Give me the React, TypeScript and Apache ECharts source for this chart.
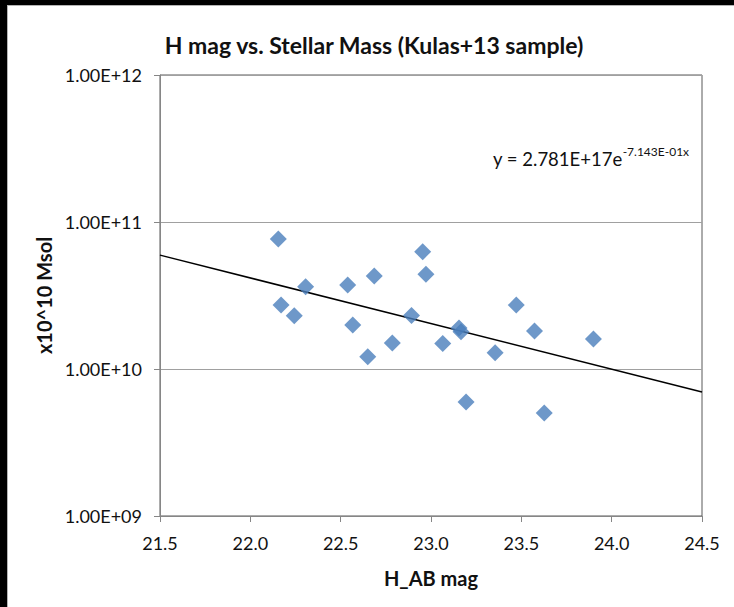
import React, { useEffect, useRef } from "react";
import * as echarts from "echarts";

// H_AB magnitude of each galaxy in the sample
const hMag = [
  22.155, 22.17, 22.243, 22.306, 22.539, 22.567, 22.65, 22.686, 22.786, 22.892,
  22.954, 22.972, 23.065, 23.155, 23.166, 23.194, 23.355, 23.472, 23.573, 23.627, 23.899,
];
// Stellar mass (Msol) of each galaxy, same order as hMag
const stellarMass = [
  7.66e10, 2.72e10, 2.3e10, 3.63e10, 3.73e10, 1.99e10, 1.21e10, 4.3e10, 1.5e10, 2.31e10,
  6.28e10, 4.41e10, 1.49e10, 1.9e10, 1.79e10, 5.97e9, 1.29e10, 2.72e10, 1.81e10, 5.01e9, 1.6e10,
];
// Exponential trendline y = A * e^(B x)
const trendA = 2.781e17;
const trendB = -7.143e-1;
const xRange = [21.5, 24.5];
const yRange = [1e9, 1e12];
const xTickStep = 0.5;

const FONT = "Lato, 'Noto Sans', sans-serif";

function formatSci(v: number): string {
  const exp = Math.round(Math.log10(v));
  const mant = v / Math.pow(10, exp);
  const sign = exp < 0 ? "-" : "+";
  const e = String(Math.abs(exp)).padStart(2, "0");
  return `${mant.toFixed(2)}E${sign}${e}`;
}

export default function App() {
  const ref = useRef<HTMLDivElement>(null);

  useEffect(() => {
    if (!ref.current) return;
    const chart = echarts.init(ref.current, undefined, { renderer: "svg" });

    const points = hMag.map((x, i) => [x, stellarMass[i]]);
    const trend = xRange.map((x) => [x, trendA * Math.exp(trendB * x)]);

    chart.setOption({
      animation: false,
      grid: {
        left: 160,
        right: 32,
        top: 75,
        bottom: 91,
        show: true,
        borderColor: "#595959",
        borderWidth: 1,
        backgroundColor: "transparent",
      },
      xAxis: {
        type: "value",
        min: xRange[0],
        max: xRange[1],
        interval: xTickStep,
        name: "H_AB mag",
        nameLocation: "middle",
        nameGap: 52,
        nameTextStyle: { fontFamily: FONT, fontWeight: "bold", fontSize: 20, color: "#111" },
        axisLine: { show: true, lineStyle: { color: "#868686", width: 1 } },
        axisTick: { show: true, inside: false, length: 6, lineStyle: { color: "#868686" } },
        axisLabel: {
          margin: 18,
          fontFamily: FONT,
          fontSize: 18,
          color: "#111",
          formatter: (v: number) => v.toFixed(1),
        },
        splitLine: { show: false },
      },
      yAxis: {
        type: "log",
        logBase: 10,
        min: yRange[0],
        max: yRange[1],
        name: "x10^10 Msol",
        nameLocation: "middle",
        nameRotate: 90,
        nameGap: 104,
        nameTextStyle: { fontFamily: FONT, fontWeight: "bold", fontSize: 20, color: "#111" },
        axisLine: { show: true, lineStyle: { color: "#868686", width: 1 } },
        axisTick: { show: true, inside: false, length: 6, lineStyle: { color: "#868686" } },
        minorTick: { show: false },
        axisLabel: {
          margin: 18,
          fontFamily: FONT,
          fontSize: 18,
          color: "#111",
          formatter: (v: number) => formatSci(v),
        },
        splitLine: { show: true, lineStyle: { color: "#a0a0a0", width: 1 } },
      },
      series: [
        {
          type: "line",
          data: trend,
          showSymbol: false,
          symbol: "none",
          lineStyle: { color: "#000", width: 1.5 },
          z: 3,
          silent: true,
        },
        {
          type: "scatter",
          data: points,
          symbol: "diamond",
          symbolSize: 17,
          itemStyle: { color: "#4a7ebb" },
          z: 4,
        },
      ],
      graphic: [
        {
          type: "text",
          x: 374,
          y: 45,
          style: {
            text: "H mag vs. Stellar Mass (Kulas+13 sample)",
            fontFamily: FONT,
            fontWeight: "bold",
            fontSize: 23,
            fill: "#111",
            textAlign: "center",
            textVerticalAlign: "middle",
          },
        },
        {
          type: "text",
          x: 493,
          y: 145,
          style: {
            text: "{a|y = 2.781E+17e}{b|-7.143E-01x}",
            fontFamily: FONT,
            textAlign: "left",
            textVerticalAlign: "top",
            rich: {
              a: { fontFamily: FONT, fontSize: 18.5, fill: "#111", lineHeight: 23, verticalAlign: "bottom" },
              b: {
                fontFamily: FONT,
                fontSize: 12,
                fill: "#111",
                lineHeight: 23,
                verticalAlign: "top",
              },
            },
          },
        },
      ],
    });

    return () => chart.dispose();
  }, []);

  return (
    <div style={{ position: "fixed", left: 0, top: 0, width: 734, height: 607, background: "#000" }}>
      <div
        style={{
          position: "absolute",
          left: 7,
          top: 5,
          right: 0,
          bottom: 0,
          background: "#fff",
          borderLeft: "1px solid #b4b4b4",
          borderTop: "1px solid #b4b4b4",
        }}
      />
      <div ref={ref} style={{ position: "absolute", left: 0, top: 0, width: 734, height: 607 }} />
    </div>
  );
}
